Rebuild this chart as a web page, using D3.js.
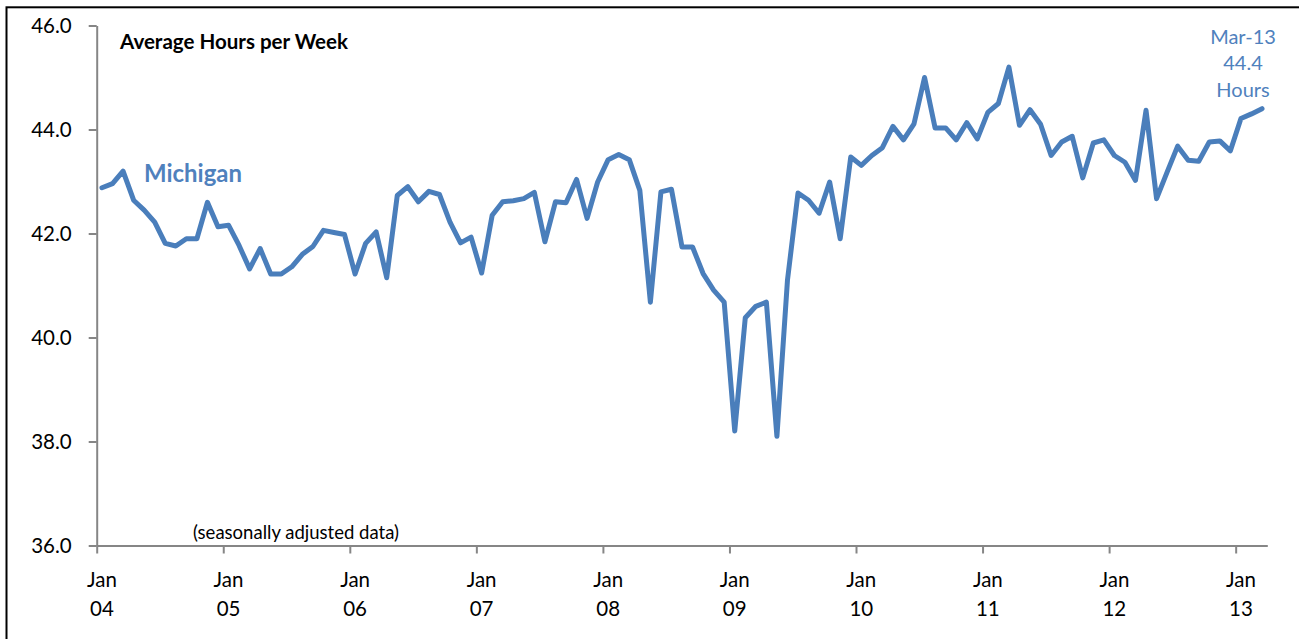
<!DOCTYPE html>
<html>
<head>
<meta charset="utf-8">
<script src="https://cdn.jsdelivr.net/npm/d3@7"></script>
<style>
  html, body { margin: 0; padding: 0; background: #fff; }
  svg { display: block; }
  text { font-family: Lato, "Open Sans", sans-serif; }
</style>
</head>
<body>
<svg id="chart" width="1299" height="639"></svg>
<script>
// ---- data (monthly, Jan 2004 - Mar 2013) ----
const years = ["04","05","06","07","08","09","10","11","12","13"];
const tickMonth = "Jan";
const hours2004 = [42.88, 42.96, 43.20, 42.64, 42.45, 42.22, 41.81, 41.76, 41.90, 41.90, 42.60, 42.13];
const hours2005 = [42.16, 41.77, 41.32, 41.71, 41.22, 41.22, 41.36, 41.60, 41.75, 42.06, 42.02, 41.98];
const hours2006 = [41.22, 41.81, 42.03, 41.15, 42.73, 42.90, 42.61, 42.81, 42.75, 42.22, 41.82, 41.93];
const hours2007 = [41.24, 42.35, 42.61, 42.63, 42.67, 42.79, 41.84, 42.61, 42.59, 43.04, 42.29, 42.99];
const hours2008 = [43.42, 43.52, 43.42, 42.83, 40.68, 42.80, 42.85, 41.74, 41.74, 41.23, 40.91, 40.68];
const hours2009 = [38.20, 40.38, 40.60, 40.68, 38.10, 41.10, 42.78, 42.64, 42.39, 42.99, 41.90, 43.47];
const hours2010 = [43.31, 43.50, 43.65, 44.06, 43.80, 44.11, 45.00, 44.03, 44.03, 43.80, 44.13, 43.82];
const hours2011 = [44.33, 44.50, 45.20, 44.08, 44.38, 44.10, 43.50, 43.76, 43.87, 43.07, 43.74, 43.80];
const hours2012 = [43.50, 43.37, 43.02, 44.37, 42.67, 43.18, 43.68, 43.41, 43.39, 43.76, 43.78, 43.59];
const hours2013 = [44.21, 44.30, 44.40];
const yTicks = [36, 38, 40, 42, 44, 46];
const seriesName = "Michigan";
const endLabel = ["Mar-13", "44.4", "Hours"];

const values = [].concat(hours2004, hours2005, hours2006, hours2007, hours2008,
                         hours2009, hours2010, hours2011, hours2012, hours2013);

// ---- layout ----
const svg = d3.select("#chart");
const plotLeft = 96.7, plotRight = 1267.3, plotTop = 25.5, plotBottom = 545.5;
const axisColor = "#868686";
const lineColor = "#4A7EBB";
const labelColor = "#4F81BD";

// outer frame (only top and left edges in view)
svg.append("rect")
  .attr("x", 6.5).attr("y", 7.3).attr("width", 1400).attr("height", 1000)
  .attr("fill", "none").attr("stroke", "#000").attr("stroke-width", 2);

const x = d3.scaleLinear().domain([0, values.length]).range([plotLeft, plotRight]);
const y = d3.scaleLinear().domain([36, 46]).range([plotBottom, plotTop]);

// y axis
const yAxis = svg.append("g")
  .attr("transform", `translate(${plotLeft},0)`)
  .call(d3.axisLeft(y).tickValues(yTicks).tickFormat(d3.format(".1f"))
        .tickSize(8).tickSizeOuter(0).tickPadding(17));
yAxis.select(".domain").attr("stroke", axisColor).attr("stroke-width", 2);
yAxis.selectAll(".tick line").attr("stroke", axisColor).attr("stroke-width", 2);
yAxis.selectAll(".tick text").attr("fill", "#000")
  .style("font-family", "Lato, sans-serif").style("font-size", "20.5px");

// x axis (ticks at year boundaries)
const janIdx = years.map((d, i) => i * 12);
const xAxis = svg.append("g")
  .attr("transform", `translate(0,${plotBottom})`)
  .call(d3.axisBottom(x).tickValues(janIdx).tickFormat("").tickSize(8).tickSizeOuter(0));
xAxis.select(".domain").attr("stroke", axisColor).attr("stroke-width", 2);
xAxis.selectAll(".tick line").attr("stroke", axisColor).attr("stroke-width", 2);

const xl = svg.append("g");
years.forEach((yr, i) => {
  const cx = x(janIdx[i] + 0.5);
  const t = xl.append("text")
    .attr("text-anchor", "middle")
    .style("font-size", "20.5px").attr("fill", "#000");
  t.append("tspan").attr("x", cx).attr("y", 587).text(tickMonth);
  t.append("tspan").attr("x", cx).attr("y", 616).text(yr);
});

// line
const line = d3.line().x((d, i) => x(i + 0.5)).y(d => y(d));
svg.append("path")
  .datum(values)
  .attr("d", line)
  .attr("fill", "none")
  .attr("stroke", lineColor)
  .attr("stroke-width", 5)
  .attr("stroke-linejoin", "round")
  .attr("stroke-linecap", "round");

// helper to fit a text element to a target width
function fit(sel, w) {
  const n = sel.node();
  const cur = n.getComputedTextLength();
  const fs = parseFloat(sel.style("font-size"));
  if (cur > 0) sel.style("font-size", (fs * w / cur).toFixed(2) + "px");
  return sel;
}

// annotations
fit(svg.append("text").attr("x", 120).attr("y", 49)
  .style("font-weight", "bold").style("font-size", "19px").attr("fill", "#000")
  .text("Average Hours per Week"), 228);

fit(svg.append("text").attr("x", 144).attr("y", 182)
  .style("font-weight", "bold").style("font-size", "23px").attr("fill", labelColor)
  .text(seriesName), 98);

fit(svg.append("text").attr("x", 193).attr("y", 539)
  .style("font-size", "16px").attr("fill", "#000")
  .text("(seasonally adjusted data)"), 206);

const endX = 1243;
const endY = [43.5, 70, 96.5];
endLabel.forEach((s, i) => {
  svg.append("text").attr("x", endX).attr("y", endY[i])
    .attr("text-anchor", "middle")
    .style("font-size", "20px").attr("fill", labelColor)
    .text(s);
});
</script>
</body>
</html>
